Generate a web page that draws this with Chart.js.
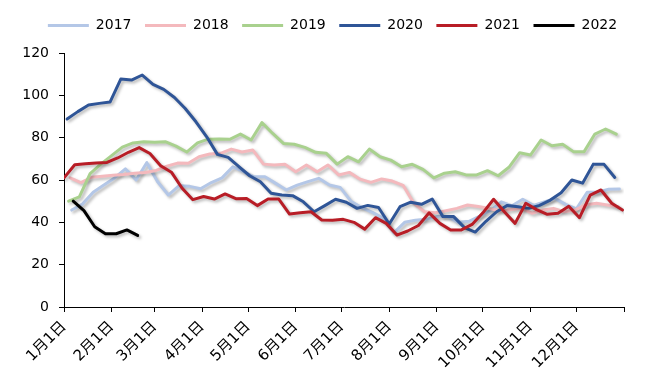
<!DOCTYPE html>
<html><head><meta charset="utf-8">
<script src="https://cdn.jsdelivr.net/npm/chart.js@4"></script>
<style>html,body{margin:0;padding:0;background:#fff}#c{display:block}</style>
</head><body>
<canvas id="c" width="665" height="379"></canvas>
<script>
// ---- data ----
const seriesNames = ['2017', '2018', '2019', '2020', '2021', '2022'];
const startDays = [5, 4, 3, 2, 0, 6];   // day of year of each series' first weekly reading
const monthStartDays = [0, 31, 59, 90, 120, 151, 181, 212, 243, 273, 304, 334, 365];
const monthLabels = ['1月1日', '2月1日', '3月1日', '4月1日', '5月1日', '6月1日', '7月1日', '8月1日', '9月1日', '10月1日', '11月1日', '12月1日', ''];
const yTickValues = [0, 20, 40, 60, 80, 100, 120];

const v2017 = [45.8, 48.6, 54.2, 57.6, 61, 65.3, 60, 68.2, 59.2, 52.9,
  57.3, 57, 55.9, 58.8, 61, 66.2, 63.9, 61.5, 61.5, 58.4,
  55.3, 57.6, 59.2, 60.8, 57.6, 56.5, 50, 47, 44.7, 42,
  35, 40, 41, 41.4, 42.7, 42.7, 40, 40.5, 43, 45.5,
  49.7, 47.8, 50.9, 48, 49.7, 51.3, 48.5, 46.4, 54.2, 54.2,
  55.6, 55.7];
const v2018 = [61, 58.8, 61.3, 61.8, 62.2, 62.6, 63.2, 63.5, 64.5, 66.5,
  68, 67.9, 71, 72.3, 72.6, 74.6, 73.2, 74.2, 67.5, 67.1,
  67.4, 63.9, 67.1, 63.9, 67.1, 62.4, 63.6, 60.4, 58.9, 60.5,
  59.5, 57.5, 49, 45, 44.5, 45.5, 46.6, 48.2, 47.5, 46.5,
  45.5, 46, 46.6, 44.3, 45.8, 46.6, 45, 45.8, 48.2, 49,
  48.2, 47.4];
const v2019 = [50, 52, 63, 67.5, 71.5, 75.5, 77.5, 78.1, 77.8, 78.1,
  76, 73.2, 77.5, 79.3, 79.4, 79.2, 81.7, 78.9, 87.1, 82,
  77.3, 76.9, 75.4, 73.1, 72.6, 67.5, 71, 68.6, 74.6, 71,
  69.4, 66.3, 67.4, 65, 61, 63.2, 63.9, 62.4, 62.4, 64.4,
  62, 66, 72.9, 71.8, 78.9, 76.2, 76.9, 73.4, 73.4, 81.7,
  84.1, 81.7];
const v2020 = [88.8, 92.3, 95.4, 96.2, 96.8, 107.7, 107.2, 109.6, 105.2, 102.8,
  99, 93.8, 87.5, 80.4, 72.1, 70.7, 66.3, 62, 59.2, 53.7,
  52.9, 52.6, 49.7, 45, 47.9, 50.9, 49.5, 46.6, 48, 47,
  39.2, 47.4, 49.5, 48.5, 51, 42.7, 42.7, 37.5, 35.4, 40.5,
  45, 48, 47.4, 46.6, 48, 50.5, 54, 60, 58.5, 67.5,
  67.4, 61.2];
const v2021 = [61, 67.2, 67.7, 68, 68.3, 70.4, 73.1, 75.3, 72.5, 66.7,
  63.7, 56.1, 50.7, 52.2, 51, 53.4, 51.2, 51.3, 47.9, 51,
  51, 43.9, 44.5, 45, 41.1, 41, 41.4, 40, 36.8, 42.2,
  39.5, 34, 35.9, 38.5, 44.5, 39.5, 36.4, 36.4, 39, 44.5,
  50.9, 45, 39.5, 49, 46, 43.8, 44.3, 47.6, 42.2, 52.9,
  55.3, 49, 45.8];
const v2022 = [50, 45.5, 37.9, 34.6, 34.6, 36.4, 33.8];

const seriesValues = [v2017, v2018, v2019, v2020, v2021, v2022];
const seriesColors = ['#b4c7e7', '#f4b9bd', '#a9d18e', '#2f5597', '#b81d26', '#000000'];

// ---- chart ----
const FONT = '"DejaVu Sans", "Noto Sans CJK SC", sans-serif';
Chart.defaults.color = '#000';
Chart.defaults.font.family = FONT;
Chart.defaults.font.size = 14;

const datasets = seriesNames.map((name, k) => ({
  label: name,
  data: seriesValues[k].map((v, i) => ({ x: startDays[k] + 7 * i, y: v })),
  borderColor: seriesColors[k],
  backgroundColor: seriesColors[k],
  borderWidth: 3,
  pointRadius: 0,
  pointHoverRadius: 0,
  tension: 0,
  borderJoinStyle: 'round',
  borderCapStyle: 'round',
  order: seriesNames.length - k
}));

const shadowPlugin = {
  id: 'lineShadow',
  beforeDatasetsDraw(chart) {
    const ctx = chart.ctx;
    ctx.save();
    ctx.shadowColor = 'rgba(0,0,0,0.28)';
    ctx.shadowBlur = 3;
    ctx.shadowOffsetX = 2;
    ctx.shadowOffsetY = 2;
  },
  afterDatasetsDraw(chart) { chart.ctx.restore(); }
};

const legendLayoutPlugin = {
  id: 'legendLayout',
  beforeInit(chart) {
    const fit = chart.legend.fit;
    chart.legend.fit = function () { fit.call(this); this.height = 48; };
  },
  afterLayout(chart) {
    // let the legend centre over the full canvas width
    chart.legend.left = 0;
    chart.legend.right = chart.width;
    chart.legend.width = chart.width;
  }
};

new Chart(document.getElementById('c'), {
  type: 'line',
  data: { datasets },
  plugins: [shadowPlugin, legendLayoutPlugin],
  options: {
    responsive: false,
    animation: false,
    events: [],
    layout: { padding: { top: 5, right: 41, left: 0, bottom: 0 } },
    plugins: {
      tooltip: { enabled: false },
      legend: {
        position: 'top',
        labels: {
          boxWidth: 41,
          boxHeight: 3,
          padding: 13.5,
          font: { size: 14, family: FONT },
          color: '#000',
          sort: (a, b) => a.datasetIndex - b.datasetIndex,
          generateLabels(chart) {
            const items = Chart.defaults.plugins.legend.labels.generateLabels(chart);
            items.forEach(it => { it.lineWidth = 0; it.fillStyle = it.strokeStyle; });
            return items;
          }
        }
      }
    },
    scales: {
      x: {
        type: 'linear',
        min: 0,
        max: 365,
        afterBuildTicks(scale) { scale.ticks = monthStartDays.map(v => ({ value: v })); },
        afterFit(scale) { scale.height = 72; },
        ticks: {
          autoSkip: false,
          minRotation: 45,
          maxRotation: 45,
          padding: 6,
          font: { size: 15, family: FONT },
          color: '#000',
          callback(value, index) { return monthLabels[index]; }
        },
        grid: { display: true, drawOnChartArea: false, drawTicks: true, tickLength: 5, color: '#000' },
        border: { display: true, color: '#000', width: 1 }
      },
      y: {
        min: 0,
        max: 120,
        afterBuildTicks(scale) { scale.ticks = yTickValues.map(v => ({ value: v })); },
        afterFit(scale) { scale.width = 64; },
        ticks: {
          padding: 10,
          font: { size: 14, family: FONT },
          color: '#000'
        },
        grid: { display: true, drawOnChartArea: false, drawTicks: true, tickLength: 5, color: '#000' },
        border: { display: true, color: '#000', width: 1 }
      }
    }
  }
});
</script>
</body></html>
